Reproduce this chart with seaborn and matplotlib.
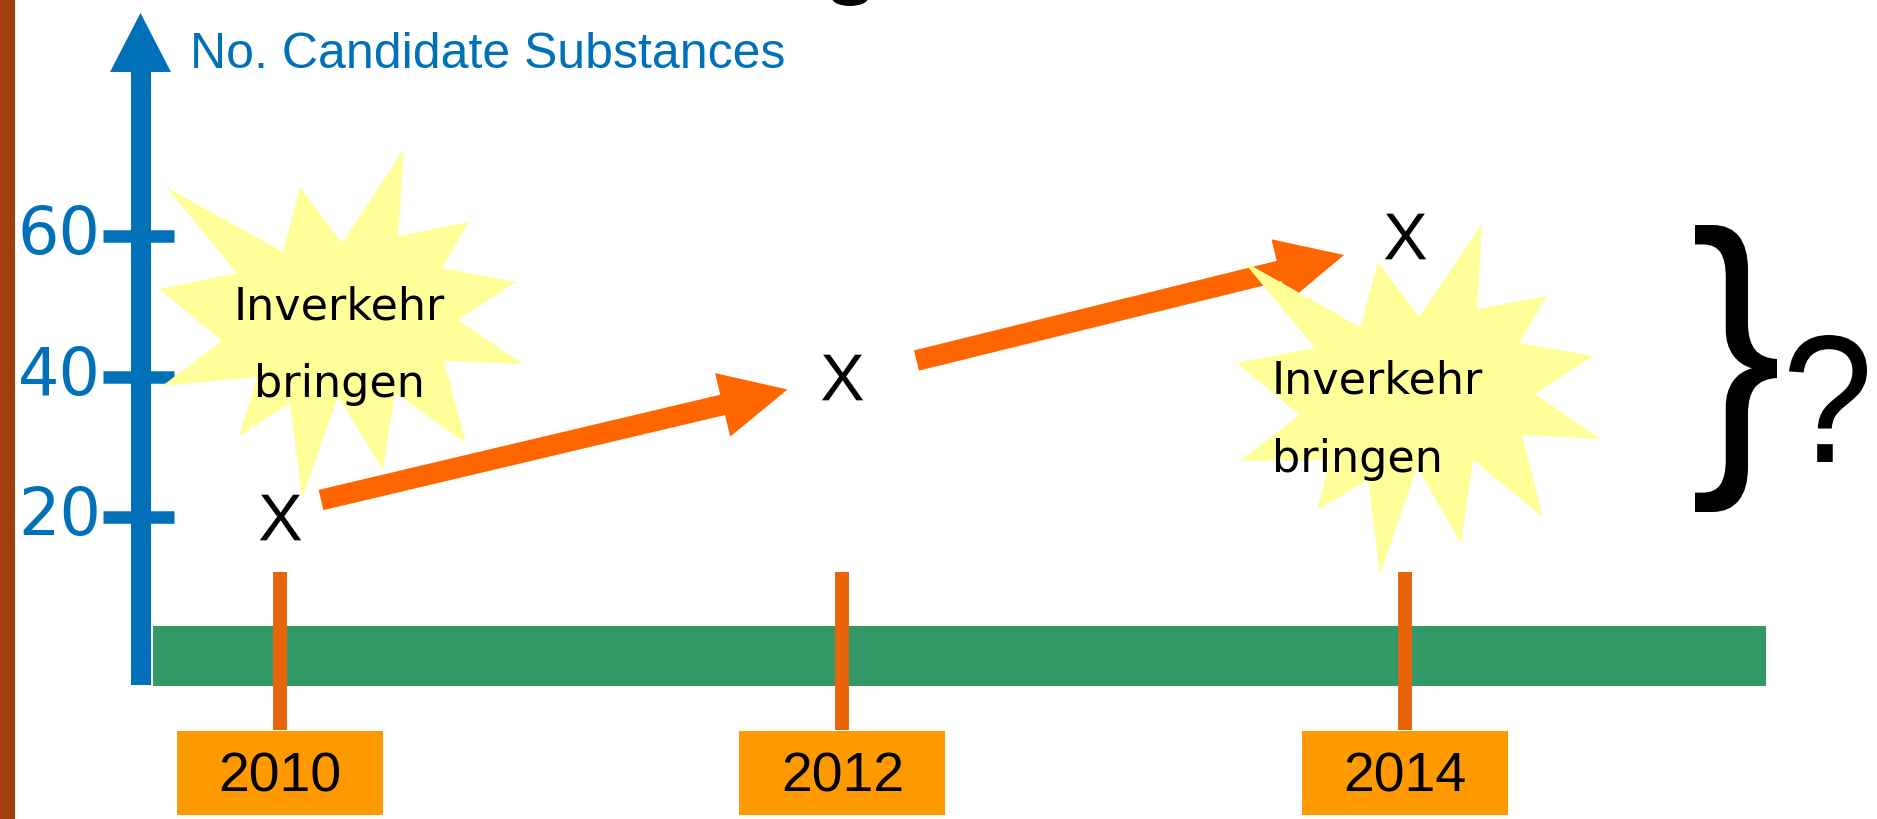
import seaborn as sns
import matplotlib.pyplot as plt
import matplotlib.transforms as mtransforms
from matplotlib.patches import Polygon, Rectangle, FancyArrowPatch, PathPatch, Ellipse, ArrowStyle
from matplotlib.textpath import TextPath
from matplotlib.font_manager import FontProperties

# data
years = [2010, 2012, 2014]
counts = [20, 40, 60]
y_ticks = [20, 40, 60]
year_labels = ["2010", "2012", "2014"]
axis_label = "No. Candidate Substances"
burst_lines = ["Inverkehr", "bringen"]

W, H = 1877, 819
sns.set_theme(style="white")
plt.rcParams["font.family"] = ["Liberation Sans", "DejaVu Sans"]
plt.rcParams["mathtext.fontset"] = "custom"
plt.rcParams["mathtext.rm"] = "Liberation Sans"

fig = plt.figure(figsize=(W / 100, H / 100), dpi=100)
ax = fig.add_axes([0, 0, 1, 1])
ax.set_axis_off()

# where 2010 / 2014 and 20 / 60 sit on the slide (pixels from top-left)
x0_px, x1_px = 280, 1405
y0_px, y1_px = 517, 236
xs = (x1_px - x0_px) / (years[-1] - years[0])
ys = (y0_px - y1_px) / (y_ticks[-1] - y_ticks[0])
ax.set_xlim(years[0] - x0_px / xs, years[0] + (W - x0_px) / xs)
ax.set_ylim(y_ticks[0] - (H - y0_px) / ys, y_ticks[0] + y0_px / ys)

pix = mtransforms.Affine2D().scale(1, -1).translate(0, H)
px_y = mtransforms.blended_transform_factory(pix, ax.transData)
x_px = mtransforms.blended_transform_factory(ax.transData, pix)

blue = "#0071B9"
orange = "#FF6600"

# brown strip on the left
ax.add_patch(Rectangle((0, 0), 15, H, transform=pix, color="#A0400A", lw=0))

# vertical axis with arrow head
ax.add_patch(Rectangle((131, 72), 20, 613, transform=pix, color=blue, lw=0))
ax.add_patch(Polygon([(110, 72), (171, 72), (140.5, 13)], transform=pix, color=blue, lw=0))
ax.hlines(y_ticks, 103, 174, transform=px_y, colors=blue, lw=9)
for v in y_ticks:
    ax.text(101, v, str(v), transform=px_y, ha="right", va="center",
            fontsize=47, color=blue, family="DejaVu Sans")
ax.text(190, 68, axis_label, transform=pix, ha="left", va="baseline",
        fontsize=36, color=blue)

# timeline
ax.add_patch(Rectangle((153, 626), 1613, 60, transform=pix, color="#339966", lw=0))
ax.vlines(years, 572, 730, transform=x_px, colors="#E8640A", lw=10, zorder=2)
for yr, lab in zip(years, year_labels):
    cx = ax.transData.transform((yr, 0))[0]
    ax.add_patch(Rectangle((cx - 103, 731), 206, 84, transform=pix,
                           color="#FF9900", lw=0))
    ax.text(yr, 792, lab, transform=x_px, ha="center", va="baseline",
            fontsize=40, color="black")

# arrows between the points (offsets in pixels from the X marks)
style = ArrowStyle.Simple(head_length=48, head_width=47, tail_width=15)
start_off = [(41, -17), (74, -16)]
end_off = [(-55, 13), (-61, 19)]
for i in range(len(years) - 1):
    a = ax.transData.transform((years[i], counts[i])) + [start_off[i][0], -start_off[i][1]]
    b = ax.transData.transform((years[i + 1], counts[i + 1])) + [end_off[i][0], -end_off[i][1]]
    ax.add_patch(FancyArrowPatch(a, b, transform=mtransforms.IdentityTransform(),
                                 arrowstyle=style, mutation_scale=1,
                                 shrinkA=0, shrinkB=0,
                                 color=orange, lw=0, zorder=2))

# starbursts
burst1 = [(166, 187), (283, 252), (300, 187), (342, 243), (404, 149), (398, 236),
          (469, 222), (442, 268), (516, 282), (458, 320), (523, 364), (444, 361),
          (466, 443), (395, 393), (383, 470), (338, 397), (302, 498), (290, 403),
          (239, 436), (257, 377), (162, 386), (222, 341), (159, 289), (237, 273)]
burst2 = [(1243, 261), (1360, 327), (1378, 262), (1419, 317), (1482, 224), (1477, 309),
          (1547, 296), (1519, 343), (1593, 356), (1535, 394), (1601, 439), (1522, 435),
          (1543, 517), (1473, 460), (1461, 544), (1417, 467), (1380, 575), (1368, 480),
          (1317, 510), (1330, 460), (1240, 461), (1299, 415), (1237, 363), (1315, 348)]
for b in (burst1, burst2):
    ax.add_patch(Polygon(b, transform=pix, facecolor="#FFFF99", edgecolor="none", zorder=3))

txt = dict(transform=pix, va="baseline", fontsize=32, family="DejaVu Sans",
           color="black", zorder=4)
ax.text(339, 320, burst_lines[0], ha="center", **txt)
ax.text(339, 397, burst_lines[1], ha="center", **txt)
ax.text(1272, 393, burst_lines[0], ha="left", **txt)
ax.text(1272, 472, burst_lines[1], ha="left", **txt)

# the X points
sns.scatterplot(x=years, y=counts, marker=r"$\mathrm{X}$", s=1080, color="black",
                linewidth=0, ax=ax, zorder=5, legend=False)


def glyph(ch, box):
    tp = TextPath((0, 0), ch, size=1, prop=FontProperties(family="Liberation Sans"))
    ext = tp.get_extents()
    bx0, by0, bx1, by1 = box
    t = (mtransforms.Affine2D().translate(-ext.x0, -ext.y1)
         .scale((bx1 - bx0) / ext.width, -(by1 - by0) / ext.height)
         .translate(bx0, by0))
    ax.add_patch(PathPatch(t.transform_path(tp), transform=pix, color="black", lw=0))


glyph("}", (1695, 225, 1777, 512))
glyph("?", (1789, 335, 1867, 462))

# bit of the cut-off title at the top edge
ax.add_patch(Ellipse((850, -2), 36, 16, transform=pix, color="black", lw=0))

ax.set_xlim(years[0] - x0_px / xs, years[0] + (W - x0_px) / xs)
ax.set_ylim(y_ticks[0] - (H - y0_px) / ys, y_ticks[0] + y0_px / ys)
fig.savefig("out.png", dpi=100)
